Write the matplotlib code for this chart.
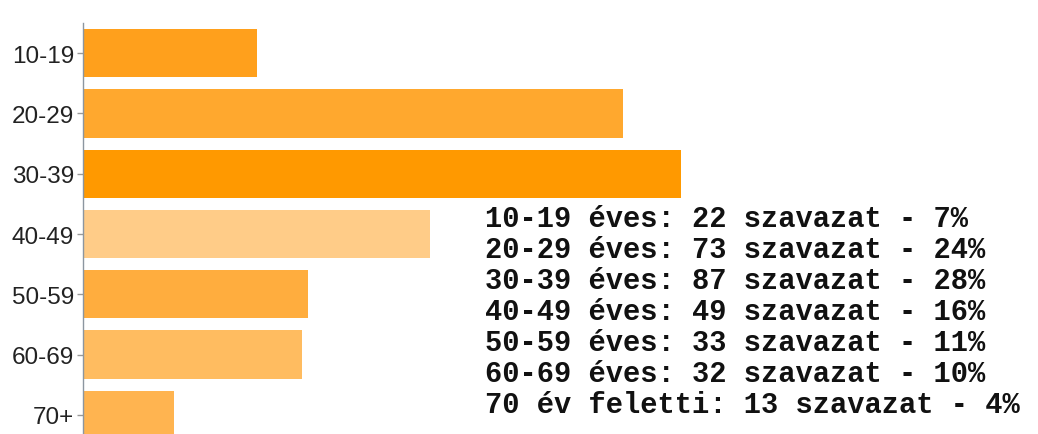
import matplotlib
matplotlib.use("Agg")
import matplotlib.pyplot as plt

categories = ["10-19", "20-29", "30-39", "40-49", "50-59", "60-69", "70+"]
bar_lengths = [25.3, 78.6, 87.0, 50.5, 32.7, 31.9, 13.2]
bar_colors = ["#FFA01C", "#FFA82E", "#FF9900", "#FFCC88", "#FFAD3E", "#FFBC60", "#FFB450"]
summary_lines = [
    "10-19 éves: 22 szavazat - 7%",
    "20-29 éves: 73 szavazat - 24%",
    "30-39 éves: 87 szavazat - 28%",
    "40-49 éves: 49 szavazat - 16%",
    "50-59 éves: 33 szavazat - 11%",
    "60-69 éves: 32 szavazat - 10%",
    "70 év feletti: 13 szavazat - 4%",
]

W, H = 1038, 435
fig = plt.figure(figsize=(W / 100, H / 100), dpi=100)
ax = fig.add_axes([83 / W, -11 / H, (W - 83) / W, 422 / H])

y = list(range(len(categories)))
ax.barh(y, bar_lengths, height=0.8, color=bar_colors, edgecolor="none")
ax.set_ylim(len(categories) - 0.5, -0.5)
ax.set_xlim(0, 87.0 * (W - 83) / 598)
ax.set_yticks(y)
ax.set_yticklabels(categories, fontsize=17.5, color="#222222", family="Liberation Sans")
ax.tick_params(axis="y", length=4.5, width=1, color="#999999", pad=2)
ax.set_xticks([])
for s in ["top", "right", "bottom"]:
    ax.spines[s].set_visible(False)
ax.spines["left"].set_color("#8c96a0")
ax.spines["left"].set_linewidth(1)

for i, line in enumerate(summary_lines):
    fig.text(485 / W, 1 - (227 + 31.05 * i) / H, line, fontsize=20.7,
             family="Liberation Mono", fontweight="bold", color="#111111",
             va="baseline", ha="left")

fig.savefig("out.png", dpi=100, facecolor="white")
